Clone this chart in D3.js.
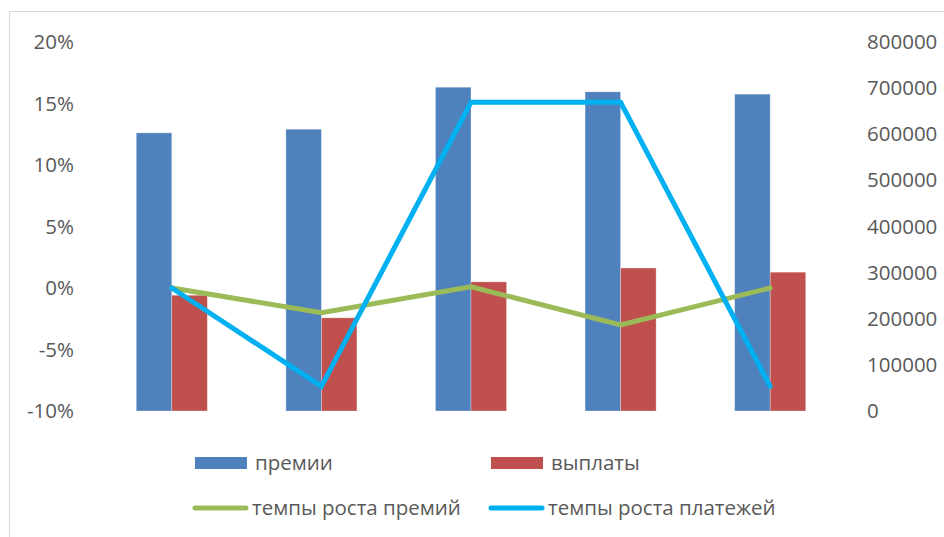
<!DOCTYPE html>
<html>
<head>
<meta charset="utf-8">
<script src="https://cdn.jsdelivr.net/npm/d3@7"></script>
<style>
  body { margin: 0; background: #fff; }
  svg text { font-family: "Open Sans", sans-serif; fill: #595959; }
</style>
</head>
<body>
<div id="chart"></div>
<script>
// categories have no visible labels in the source
const categories = ["1", "2", "3", "4", "5"];
const premii = [603000, 611000, 702000, 692000, 687000];
const vyplaty = [251000, 202000, 280000, 310000, 301000];
const rostPremiy = [0.0, -0.02, 0.001, -0.03, 0.0];
const rostPlatezhey = [0.0, -0.08, 0.151, 0.151, -0.08];
const leftTicks = [-0.1, -0.05, 0, 0.05, 0.1, 0.15, 0.2];
const rightTicks = [0, 100000, 200000, 300000, 400000, 500000, 600000, 700000, 800000];

const width = 944, height = 537;
const margin = { top: 42, right: 99, bottom: 126, left: 97 };
const innerWidth = width - margin.left - margin.right;
const innerHeight = height - margin.top - margin.bottom;
const fontSize = "20.5px";

const colors = {
  premii: "#4F81BD",
  vyplaty: "#C0504D",
  rostPremiy: "#9BBB59",
  rostPlatezhey: "#00B0F0"
};

const svg = d3.select("#chart")
  .append("svg")
  .attr("width", width)
  .attr("height", height);

// chart frame (only left and top edges are inside the picture)
svg.append("path")
  .attr("d", "M9.5," + height + "V11.5H" + width)
  .attr("fill", "none")
  .attr("stroke", "#d9d9d9");

const g = svg.append("g")
  .attr("transform", "translate(" + margin.left + "," + margin.top + ")");

const x = d3.scaleBand()
  .domain(categories)
  .range([0, innerWidth])
  .paddingInner(0.525)
  .paddingOuter(0.2625);

const xSeries = d3.scaleBand()
  .domain(["premii", "vyplaty"])
  .range([0, x.bandwidth()]);

const yLeft = d3.scaleLinear().domain([-0.1, 0.2]).range([innerHeight, 0]);
const yRight = d3.scaleLinear().domain([0, 800000]).range([innerHeight, 0]);

// axes (labels only)
const leftAxis = g.append("g")
  .call(d3.axisLeft(yLeft).tickValues(leftTicks)
    .tickFormat(d => Math.round(d * 100) + "%").tickSize(0).tickPadding(23));
leftAxis.select(".domain").remove();
leftAxis.selectAll("text").style("font-size", fontSize).style("fill", "#595959")
  .style("font-family", "'Open Sans', sans-serif");

const rightAxis = g.append("g")
  .attr("transform", "translate(" + innerWidth + ",0)")
  .call(d3.axisRight(yRight).tickValues(rightTicks).tickFormat(d => String(d)).tickSize(0).tickPadding(22));
rightAxis.select(".domain").remove();
rightAxis.selectAll("text").style("font-size", fontSize).style("fill", "#595959")
  .style("font-family", "'Open Sans', sans-serif");

// bars
const barData = categories.map((c, i) => ({ c: c, premii: premii[i], vyplaty: vyplaty[i] }));
const groups = g.selectAll(".grp")
  .data(barData)
  .enter()
  .append("g")
  .attr("transform", d => "translate(" + x(d.c) + ",0)");

["premii", "vyplaty"].forEach(k => {
  groups.append("rect")
    .attr("x", xSeries(k))
    .attr("y", d => yRight(d[k]))
    .attr("width", xSeries.bandwidth())
    .attr("height", d => innerHeight - yRight(d[k]))
    .attr("fill", colors[k])
    .attr("stroke", "#ffffff")
    .attr("stroke-opacity", 0.4)
    .attr("stroke-width", 0.75);
});

// lines on left axis
const line = d3.line()
  .x((d, i) => x(categories[i]) + x.bandwidth() / 2)
  .y(d => yLeft(d));

g.append("path")
  .datum(rostPremiy)
  .attr("d", line)
  .attr("fill", "none")
  .attr("stroke", colors.rostPremiy)
  .attr("stroke-width", 5)
  .attr("stroke-linecap", "round");

g.append("path")
  .datum(rostPlatezhey)
  .attr("d", line)
  .attr("fill", "none")
  .attr("stroke", colors.rostPlatezhey)
  .attr("stroke-width", 5)
  .attr("stroke-linecap", "round");

// legend
const legendItems = [
  { key: "premii", label: "премии", type: "rect", x: 195, y: 463 },
  { key: "vyplaty", label: "выплаты", type: "rect", x: 491, y: 463 },
  { key: "rostPremiy", label: "темпы роста премий", type: "line", x: 193, y: 508 },
  { key: "rostPlatezhey", label: "темпы роста платежей", type: "line", x: 489, y: 508 }
];

const legend = svg.append("g");
legendItems.forEach(it => {
  const row = legend.append("g").attr("transform", "translate(" + it.x + "," + it.y + ")");
  if (it.type === "rect") {
    row.append("rect")
      .attr("x", 0).attr("y", -6)
      .attr("width", 52).attr("height", 12)
      .attr("fill", colors[it.key]);
    row.append("text")
      .attr("x", 60).attr("y", 7)
      .style("font-size", fontSize)
      .text(it.label);
  } else {
    row.append("line")
      .attr("x1", 2).attr("x2", 53)
      .attr("y1", 0).attr("y2", 0)
      .attr("stroke", colors[it.key])
      .attr("stroke-width", 5)
      .attr("stroke-linecap", "round");
    row.append("text")
      .attr("x", 59).attr("y", 7)
      .style("font-size", fontSize)
      .text(it.label);
  }
});
</script>
</body>
</html>
